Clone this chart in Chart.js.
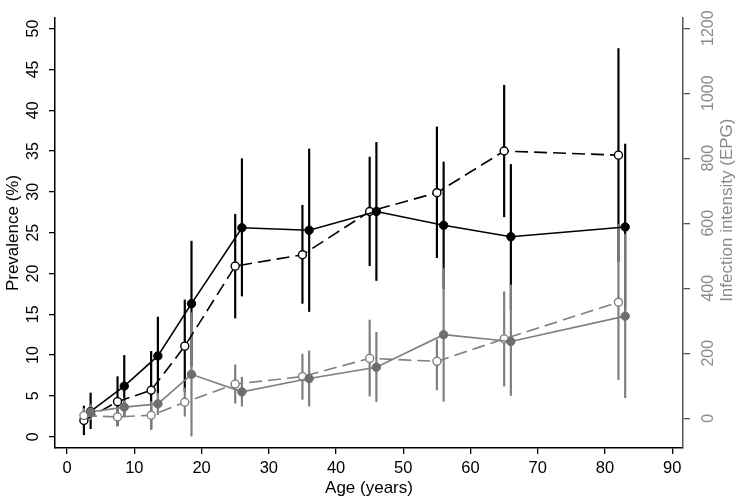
<!DOCTYPE html>
<html>
<head>
<meta charset="utf-8">
<script src="https://cdn.jsdelivr.net/npm/chart.js@4/dist/chart.umd.min.js"></script>
<style>
html,body{margin:0;padding:0;background:#fff;}
#wrap{width:749px;height:499px;position:relative;}
</style>
</head>
<body>
<div id="wrap"><canvas id="c"></canvas></div>
<script>
// ---- data ----
const ageOpen   = [2.5, 7.5, 12.5, 17.5, 25, 35, 45, 55, 65, 82];
const ageFilled = [3.5, 8.5, 13.5, 18.5, 26, 36, 46, 56, 66, 83];

const prevFilled   = [3.1, 6.2, 9.9, 16.3, 25.6, 25.3, 27.6, 25.9, 24.5, 25.7];
const prevFilledLo = [0.95, 2.4, 5.1, 8.6, 17.2, 15.3, 19.1, 18.1, 15.6, 15.5];
const prevFilledHi = [5.4, 10.0, 14.7, 24.0, 34.1, 35.3, 36.1, 33.7, 33.4, 35.9];

const prevOpen   = [2.0, 4.3, 5.7, 11.1, 20.9, 22.3, 27.6, 29.9, 35.0, 34.5];
const prevOpenLo = [0.2, 1.3, 0.9, 5.5, 14.5, 16.3, 20.9, 21.9, 26.9, 21.4];
const prevOpenHi = [3.8, 7.4, 10.5, 16.8, 27.3, 28.4, 34.3, 38.0, 43.1, 47.6];

const epgFilled   = [19, 34, 44, 135, 81, 122, 157, 257, 236, 314];
const epgFilledLo = [-5, 5, 10, -56, 36, 36, 50, 51, 69, 62];
const epgFilledHi = [43, 63, 78, 326, 127, 208, 265, 463, 411, 567];

const epgOpen   = [8, 4, 9, 49, 105, 128, 184, 175, 244, 357];
const epgOpenLo = [-15, -25, -35, 5, 45, 57, 67, 86, 98, 118];
const epgOpenHi = [31, 33, 52, 94, 165, 198, 303, 242, 390, 597];

const xTicks  = [0, 10, 20, 30, 40, 50, 60, 70, 80, 90];
const yTicks  = [0, 5, 10, 15, 20, 25, 30, 35, 40, 45, 50];
const y2Ticks = [0, 200, 400, 600, 800, 1000, 1200];

const xTitle = 'Age (years)';
const yTitle = 'Prevalence (%)';
const y2Title = 'Infection intensity (EPG)';

// ---- helpers ----
const pts = (xs, ys) => xs.map((x, i) => ({x: x, y: ys[i]}));
const FONT = "'Liberation Sans', Arial, sans-serif";
const GREY = '#7f7f7f';
const GREY_PT = '#6e6e6e';
const plain = v => String(v);

const errorBars = {
  id: 'errorBars',
  beforeDatasetsDraw(chart) {
    const ctx = chart.ctx;
    const xs = chart.scales.x;
    const groups = [
      {x: ageOpen,   lo: prevOpenLo,   hi: prevOpenHi,   axis: 'y',  color: '#000'},
      {x: ageFilled, lo: prevFilledLo, hi: prevFilledHi, axis: 'y',  color: '#000'},
      {x: ageOpen,   lo: epgOpenLo,    hi: epgOpenHi,    axis: 'y2', color: GREY},
      {x: ageFilled, lo: epgFilledLo,  hi: epgFilledHi,  axis: 'y2', color: GREY}
    ];
    ctx.save();
    ctx.lineWidth = 2.2;
    ctx.lineCap = 'butt';
    groups.forEach(g => {
      const ys = chart.scales[g.axis];
      ctx.strokeStyle = g.color;
      g.x.forEach((xv, i) => {
        const px = xs.getPixelForValue(xv);
        ctx.beginPath();
        ctx.moveTo(px, ys.getPixelForValue(g.lo[i]));
        ctx.lineTo(px, ys.getPixelForValue(g.hi[i]));
        ctx.stroke();
      });
    });
    ctx.restore();
  }
};

const rightTitle = {
  id: 'rightTitle',
  afterDraw(chart) {
    const ctx = chart.ctx;
    const s = chart.scales.y2;
    ctx.save();
    ctx.font = '17px ' + FONT;
    ctx.fillStyle = '#8a8a8a';
    ctx.textAlign = 'center';
    ctx.textBaseline = 'middle';
    ctx.translate(s.right - 22, s.getPixelForValue(640));
    ctx.rotate(-Math.PI / 2);
    ctx.fillText(y2Title, 0, 0);
    ctx.restore();
  }
};

new Chart(document.getElementById('c'), {
  type: 'line',
  data: {
    datasets: [
      {
        data: pts(ageFilled, epgFilled), yAxisID: 'y2',
        borderColor: GREY, borderWidth: 1.6,
        pointRadius: 4.2, pointBackgroundColor: GREY_PT, pointBorderColor: GREY_PT, pointBorderWidth: 1
      },
      {
        data: pts(ageOpen, epgOpen), yAxisID: 'y2',
        borderColor: GREY, borderWidth: 1.6, borderDash: [13, 6],
        pointRadius: 4, pointBackgroundColor: '#fff', pointBorderColor: GREY, pointBorderWidth: 1.4
      },
      {
        data: pts(ageFilled, prevFilled), yAxisID: 'y',
        borderColor: '#000', borderWidth: 1.6,
        pointRadius: 4.2, pointBackgroundColor: '#000', pointBorderColor: '#000', pointBorderWidth: 1
      },
      {
        data: pts(ageOpen, prevOpen), yAxisID: 'y',
        borderColor: '#000', borderWidth: 1.6, borderDash: [13, 6],
        pointRadius: 4, pointBackgroundColor: '#fff', pointBorderColor: '#000', pointBorderWidth: 1.4
      }
    ]
  },
  options: {
    responsive: true,
    maintainAspectRatio: false,
    devicePixelRatio: 1,
    animation: false,
    events: [],
    layout: {padding: {top: 18, left: 0, right: 0, bottom: 0}},
    plugins: {legend: {display: false}, tooltip: {enabled: false}},
    elements: {line: {tension: 0}},
    scales: {
      x: {
        type: 'linear', position: 'bottom', min: -1.8, max: 91.6, offset: false,
        afterBuildTicks: s => { s.ticks = xTicks.map(v => ({value: v})); },
        afterFit: s => { s.height = 51; },
        grid: {drawOnChartArea: false, drawTicks: true, tickLength: 6, color: '#000', lineWidth: 1.3},
        border: {display: true, color: '#000', width: 1.5},
        ticks: {color: '#000', font: {family: FONT, size: 16.5}, padding: 5, maxRotation: 0, minRotation: 0, callback: plain},
        title: {display: true, text: xTitle, color: '#000', font: {family: FONT, size: 17}, padding: {top: 0, bottom: 0.5}}
      },
      y: {
        type: 'linear', position: 'left', min: -1.38, max: 51.3,
        afterBuildTicks: s => { s.ticks = yTicks.map(v => ({value: v})); },
        afterFit: s => { s.width = 55; },
        grid: {drawOnChartArea: false, drawTicks: true, tickLength: 6, color: '#000', lineWidth: 1.3},
        border: {display: true, color: '#000', width: 1.5},
        ticks: {color: '#000', font: {family: FONT, size: 16}, padding: 7, minRotation: 90, maxRotation: 90, crossAlign: 'center', callback: plain},
        title: {display: true, text: yTitle, color: '#000', font: {family: FONT, size: 17}, padding: {top: 3, bottom: 0}}
      },
      y2: {
        type: 'linear', position: 'right', min: -91.7, max: 1231.4,
        afterBuildTicks: s => { s.ticks = y2Ticks.map(v => ({value: v})); },
        afterFit: s => { s.width = 66; },
        grid: {drawOnChartArea: false, drawTicks: true, tickLength: 7, color: '#555', lineWidth: 1.3},
        border: {display: true, color: '#555', width: 1.5},
        ticks: {color: '#8a8a8a', font: {family: FONT, size: 16}, padding: 1, minRotation: 90, maxRotation: 90, crossAlign: 'center', callback: plain},
        title: {display: false}
      }
    }
  },
  plugins: [errorBars, rightTitle]
});
</script>
</body>
</html>
